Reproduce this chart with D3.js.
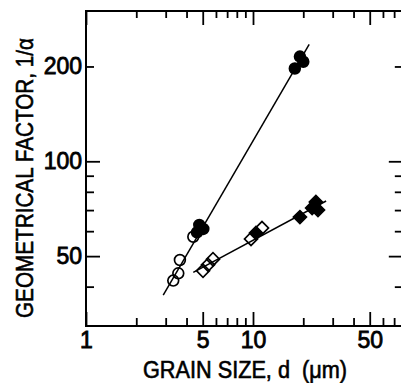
<!DOCTYPE html>
<html><head><meta charset="utf-8">
<script src="https://cdn.jsdelivr.net/npm/d3@7"></script>
<style>
body{margin:0;background:#fff}
svg text{font-family:"Liberation Sans",Arial,Helvetica,sans-serif;fill:#000}
</style>
</head><body>
<svg id="c" width="401" height="383"></svg>
<script>
// ---- data ----
const openCirclesX = [3.33, 3.57, 3.65, 4.39];
const openCirclesY = [41.8, 44.1, 48.6, 57.6];
const filledCirclesX = [4.62, 4.77, 5.04, 17.8, 19.1, 20.0];
const filledCirclesY = [59.5, 62.8, 61.0, 197, 215, 207];
const openDiamondsX = [5.02, 5.38, 5.76, 9.73, 11.32];
const openDiamondsY = [44.9, 46.9, 48.9, 56.7, 61.4];
const filledDiamondsX = [10.42, 19.1, 22.6, 23.8, 24.5];
const filledDiamondsY = [59.2, 66.5, 71.1, 74.3, 70.0];
const line1X = [2.90, 21.7];
const line1Y = [37.6, 235];
const line2X = [4.39, 27.4];
const line2Y = [44.4, 74.8];
const xMajorTicks = [1, 5, 10, 50];
const xMinorTicks = [2, 3, 4, 6, 7, 8, 9, 20, 30, 40, 60, 70];
const yMajorTicks = [50, 100];
const yMinorTicks = [40, 60, 70, 80, 90, 200];
const yLabelTicks = [50, 100, 200];
const xTitle = "GRAIN SIZE, d\u00a0 (μm)";
const yTitle = "GEOMETRICAL FACTOR, 1/α";

const svg = d3.select("#c");
const L = 86, T = 11, B = 326;
const x = d3.scaleLog().domain([1, 80]).range([L, L + 167 * Math.log10(80)]);
const y = d3.scaleLog().domain([30, 300]).range([B, T]);
const R = x(80);

const fs = 23;
function styleAxis(g){
  g.select(".domain").remove();
  g.selectAll(".tick line").attr("stroke","#000").attr("stroke-width",1.8);
  g.selectAll("text").attr("font-size",fs).attr("fill","#000")
   .attr("stroke","#000").attr("stroke-width",0.8)
   .attr("font-family",'"Liberation Sans",Arial,sans-serif');
}
// bottom
svg.append("g").attr("transform",`translate(0,${B})`)
  .call(d3.axisBottom(x).tickValues(xMajorTicks).tickFormat(d3.format("d")).tickSizeInner(-14).tickSizeOuter(0).tickPadding(6))
  .call(styleAxis);
svg.append("g").attr("transform",`translate(0,${B})`)
  .call(d3.axisBottom(x).tickValues(xMinorTicks).tickFormat("").tickSizeInner(-8).tickSizeOuter(0))
  .call(styleAxis);
// top
svg.append("g").attr("transform",`translate(0,${T})`)
  .call(d3.axisTop(x).tickValues(xMajorTicks).tickFormat("").tickSizeInner(-14).tickSizeOuter(0))
  .call(styleAxis);
svg.append("g").attr("transform",`translate(0,${T})`)
  .call(d3.axisTop(x).tickValues(xMinorTicks).tickFormat("").tickSizeInner(-7).tickSizeOuter(0))
  .call(styleAxis);
// left
svg.append("g").attr("transform",`translate(${L},0)`)
  .call(d3.axisLeft(y).tickValues(yMajorTicks).tickFormat("").tickSizeInner(-14).tickSizeOuter(0))
  .call(styleAxis);
svg.append("g").attr("transform",`translate(${L},0)`)
  .call(d3.axisLeft(y).tickValues(yMinorTicks).tickFormat("").tickSizeInner(-8).tickSizeOuter(0))
  .call(styleAxis);
svg.append("g").attr("transform",`translate(${L},0)`)
  .call(d3.axisLeft(y).tickValues(yLabelTicks).tickFormat(d3.format("d")).tickSize(0).tickPadding(4))
  .call(styleAxis);
// right
svg.append("g").attr("transform",`translate(${R},0)`)
  .call(d3.axisRight(y).tickValues(yMajorTicks).tickFormat("").tickSizeInner(-15).tickSizeOuter(0))
  .call(styleAxis);
svg.append("g").attr("transform",`translate(${R},0)`)
  .call(d3.axisRight(y).tickValues(yMinorTicks).tickFormat("").tickSizeInner(-9).tickSizeOuter(0))
  .call(styleAxis);

// frame
svg.append("path")
  .attr("d",`M${R},${T}H${L}V${B}H${R}V${T}`)
  .attr("fill","none").attr("stroke","#000").attr("stroke-width",2);

// fit lines
const lineGen = d3.line().x(d=>x(d[0])).y(d=>y(d[1]));
[[line1X,line1Y],[line2X,line2Y]].forEach(([xs,ys])=>{
  svg.append("path").attr("d",lineGen(d3.zip(xs,ys)))
    .attr("fill","none").attr("stroke","#000").attr("stroke-width",1.5);
});

// markers
const diamond = d3.symbol().type(d3.symbolSquare).size(85);
function diamonds(xs, ys, filled){
  svg.append("g").selectAll("path").data(d3.zip(xs,ys)).join("path")
    .attr("d",diamond)
    .attr("transform",d=>`translate(${x(d[0])},${y(d[1])}) rotate(45)`)
    .attr("fill",filled?"#000":"none").attr("stroke","#000").attr("stroke-width",1.7);
}
function circles(xs, ys, filled){
  svg.append("g").selectAll("circle").data(d3.zip(xs,ys)).join("circle")
    .attr("cx",d=>x(d[0])).attr("cy",d=>y(d[1])).attr("r",5.4)
    .attr("fill",filled?"#000":"none").attr("stroke","#000").attr("stroke-width",1.7);
}
diamonds(filledDiamondsX, filledDiamondsY, true);
diamonds(openDiamondsX, openDiamondsY, false);
circles(filledCirclesX, filledCirclesY, true);
circles(openCirclesX, openCirclesY, false);

// axis titles
svg.append("text").attr("x",245).attr("y",378).attr("text-anchor","middle")
  .attr("font-size",23).attr("stroke","#000").attr("stroke-width",0.6)
  .attr("textLength",204).attr("lengthAdjust","spacingAndGlyphs")
  .text(xTitle);

svg.append("text").attr("transform","translate(33,178) rotate(-90)")
  .attr("text-anchor","middle").attr("font-size",24).attr("stroke","#000").attr("stroke-width",0.6)
  .attr("textLength",280).attr("lengthAdjust","spacingAndGlyphs")
  .text(yTitle);
</script>
</body></html>
